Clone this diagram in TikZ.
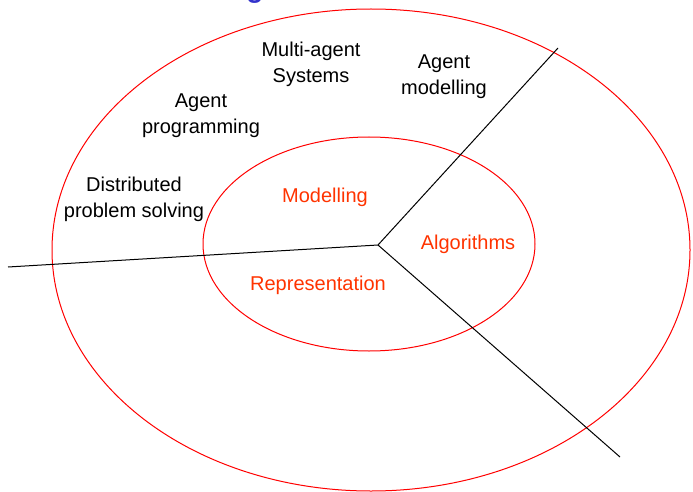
\documentclass[tikz,border=0pt]{standalone}
\usepackage{fontspec}
\setmainfont{Liberation Sans}
\definecolor{ringred}{RGB}{255,0,0}
\definecolor{labelred}{RGB}{255,51,0}
\definecolor{titleblue}{RGB}{51,51,204}
\begin{document}
\begin{tikzpicture}[x=1pt,y=-1pt,
  ring/.style={draw=ringred,line width=1pt},
  divider/.style={draw=black,line width=1pt},
  outerlabel/.style={align=center,font=\fontsize{20}{26}\selectfont,text=black,inner sep=0pt},
  innerlabel/.style={font=\fontsize{20}{26}\selectfont,text=labelred,inner sep=0pt}]
\useasboundingbox (0,0) rectangle (693,492);
\node[anchor=base,font=\bfseries\fontsize{28}{30}\selectfont,text=titleblue,inner sep=0pt] (title) at (255,-2) {g};
\draw[ring] (371,250) ellipse [x radius=319,y radius=241];
\draw[ring] (369,244) ellipse [x radius=166,y radius=107];
\coordinate (hub) at (378,245);
\coordinate (endW) at (8,267);
\coordinate (endNE) at (558,48);
\coordinate (endSE) at (620,457);
\draw[divider] (hub) -- (endW);
\draw[divider] (hub) -- (endNE);
\draw[divider] (hub) -- (endSE);
\node[outerlabel] (mas) at (311,64) {Multi-agent\\Systems};
\node[outerlabel] (amod) at (444,77) {Agent\\modelling};
\node[outerlabel] (aprog) at (201,116) {Agent\\programming};
\node[outerlabel] (dps) at (134,199) {Distributed\\problem solving};
\node[innerlabel] (modelling) at (325,197) {Modelling};
\node[innerlabel] (algorithms) at (468,244) {Algorithms};
\node[innerlabel] (repr) at (318,285) {Representation};
\end{tikzpicture}
\end{document}
